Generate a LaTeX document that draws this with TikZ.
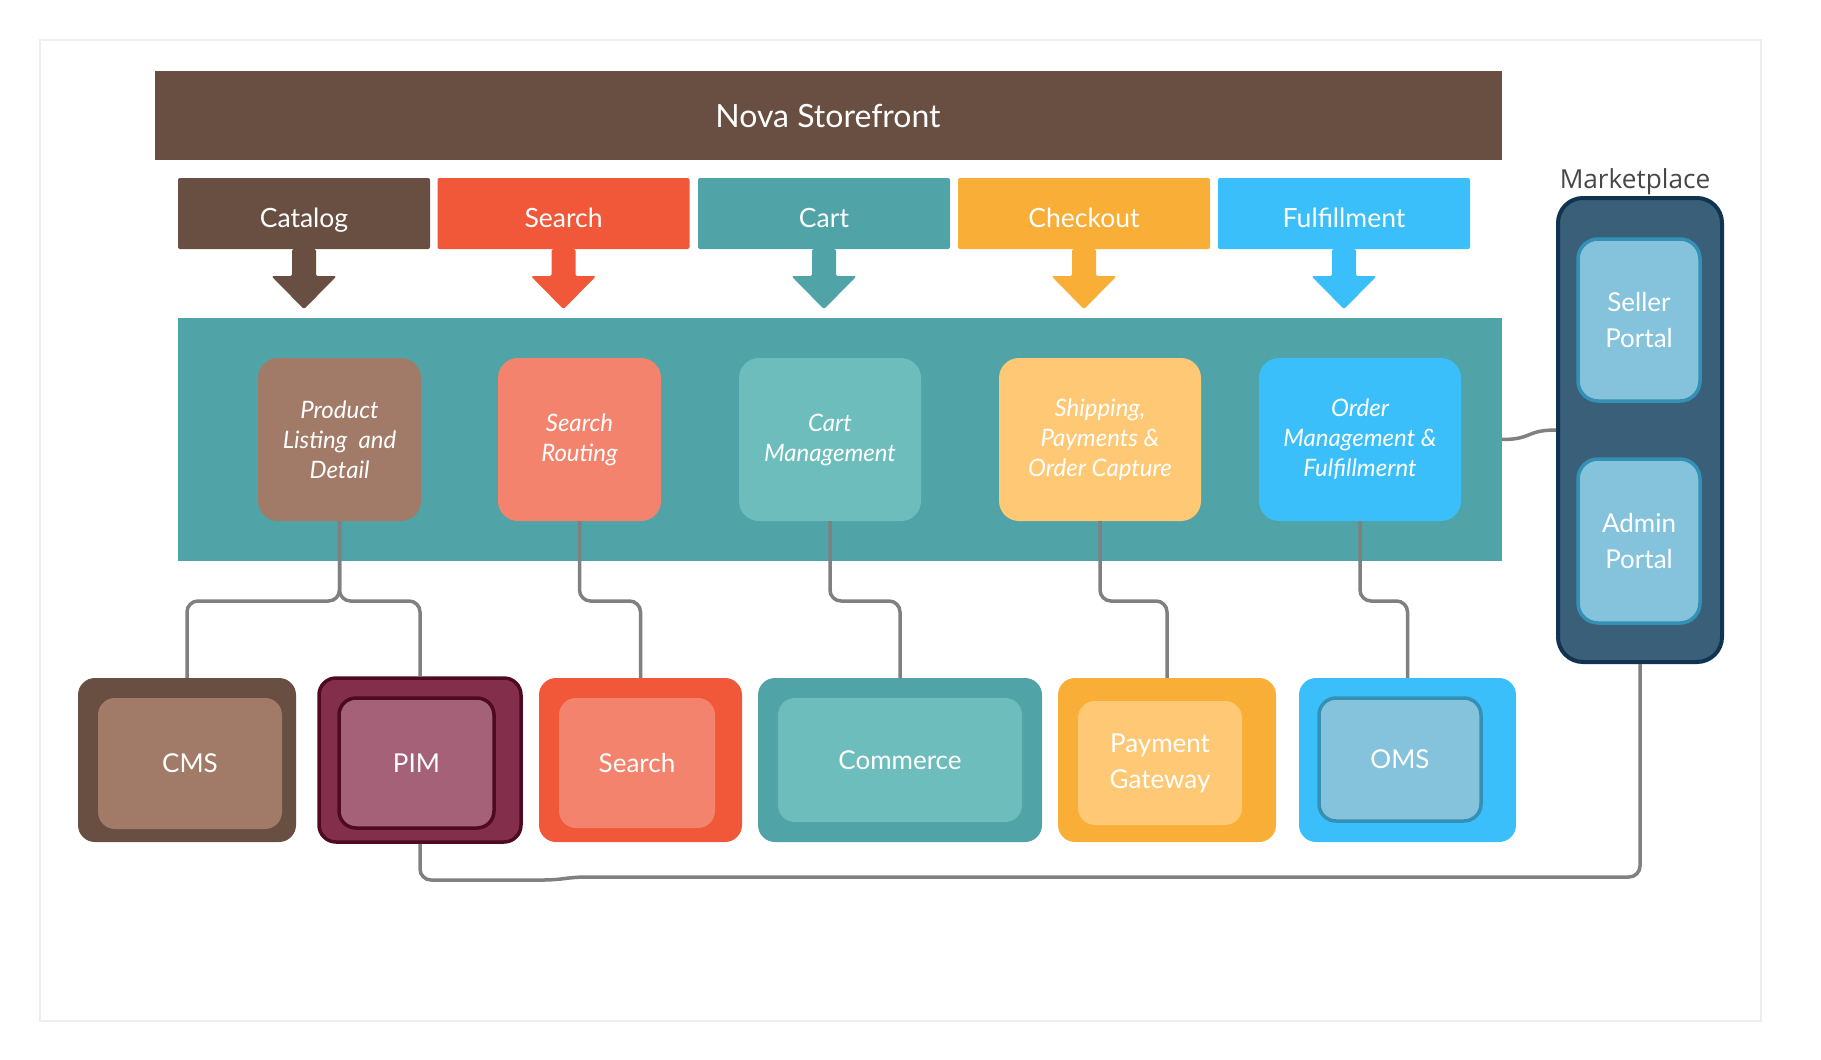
\documentclass[tikz,border=0pt]{standalone}
\usepackage{fontspec}
\setmainfont{Lato}
\newfontfamily\mktfont{Open Sans}
\usetikzlibrary{positioning}

\definecolor{barbrown}{HTML}{694E42}
\definecolor{srchred}{HTML}{F1583A}
\definecolor{cartteal}{HTML}{50A4A7}
\definecolor{chkorange}{HTML}{F9AE38}
\definecolor{fulblue}{HTML}{3BBFFA}
\definecolor{prodbrown}{HTML}{A27A68}
\definecolor{srchlight}{HTML}{F4836D}
\definecolor{cartlight}{HTML}{6EBDBD}
\definecolor{shiplight}{HTML}{FEC874}
\definecolor{pimdark}{HTML}{832E4A}
\definecolor{pimline}{HTML}{4E0A22}
\definecolor{pimlight}{HTML}{A46177}
\definecolor{portfill}{HTML}{84C3DB}
\definecolor{portline}{HTML}{3590B5}
\definecolor{mktfill}{HTML}{3A6079}
\definecolor{mktline}{HTML}{0F3350}
\definecolor{mktlabel}{HTML}{474747}
\definecolor{linkgray}{HTML}{808080}
\definecolor{framegray}{HTML}{EEEEEE}

\tikzset{
  tab/.style={rectangle, rounded corners=2pt, minimum width=252pt, minimum height=71pt, inner sep=0pt},
  tablabel/.style={anchor=base, inner sep=0pt, text=white, font=\fontsize{26.5}{30}\selectfont},
  svc/.style={rectangle, rounded corners=20pt, minimum height=163pt, inner sep=0pt, text=white, align=center, font=\fontsize{24}{30}\selectfont\itshape},
  sysout/.style={rectangle, rounded corners=17pt, minimum height=164pt, inner sep=0pt},
  sysin/.style={rectangle, rounded corners=17pt, inner sep=0pt, text=white, align=center, font=\fontsize{26}{36}\selectfont},
  link/.style={draw=linkgray, line width=3.5pt, rounded corners=11pt}
}

\begin{document}
\begin{tikzpicture}[x=1pt, y=-1pt]
    \useasboundingbox (0,0) rectangle (1821,1060);
    \draw[framegray, line width=2pt] (39.5,39.5) rectangle (1761,1021);

    \node[fill=barbrown, minimum width=1347pt, minimum height=89pt, inner sep=0pt, text=white, font=\fontsize{32}{38}\selectfont] (store) at (828,115.5) {Nova Storefront};

    \node[tab, fill=barbrown] (cat) at (304,213.5) {};
    \node[tab, fill=srchred] (srch) at (563.5,213.5) {};
    \node[tab, fill=cartteal] (cart) at (824,213.5) {};
    \node[tab, fill=chkorange] (chk) at (1084,213.5) {};
    \node[tab, fill=fulblue] (ful) at (1344,213.5) {};

    \foreach \t/\c/\l in {cat/barbrown/Catalog, srch/srchred/Search, cart/cartteal/Cart, chk/chkorange/Checkout, ful/fulblue/Fulfillment} {
        \node[tablabel] (\t txt) at (\t.center |- 0,227) {\l};
        \fill[\c, rounded corners=1.5pt] (\t.south) ++(-12,0) -- ++(0,27) -- ++(-20.5,0) -- ++(32.5,33) -- ++(32.5,-33) -- ++(-20.5,0) -- ++(0,-27) -- cycle;
    }

    \node[fill=cartteal, minimum width=1324pt, minimum height=243pt, inner sep=0pt] (band) at (840,439.5) {};

    \node[svc, fill=prodbrown, minimum width=163pt] (prod) at (339.5,439.5) {Product\\Listing~ and\\Detail};
    \node[svc, fill=srchlight, minimum width=163pt] (srt) at (579.5,439.5) {Search\\Routing};
    \node[svc, fill=cartlight, minimum width=182pt] (cartm) at (830,439.5) {Cart\\Management};
    \node[svc, fill=shiplight, minimum width=202pt] (ship) at (1100,439.5) {Shipping,\\Payments \&\\Order Capture};
    \node[svc, fill=fulblue, minimum width=202pt] (ord) at (1360,439.5) {Order\\Management \&\\Fulfillmernt};

    \node[font=\mktfont\fontsize{26.2}{30}\selectfont, text=mktlabel] (mktlbl) at (1635,181.5) {Marketplace};
    \node[rectangle, rounded corners=25pt, fill=mktfill, draw=mktline, line width=4pt, minimum width=164pt, minimum height=464pt] (mkt) at (1640,430) {};
    \node[sysin, fill=portfill, draw=portline, line width=3.5pt, rounded corners=20pt, minimum width=122pt, minimum height=162pt] (seller) at (1639,320) {Seller\\Portal};
    \node[sysin, fill=portfill, draw=portline, line width=3.5pt, rounded corners=20pt, minimum width=122pt, minimum height=164pt] (admin) at (1639,541) {Admin\\Portal};

    \node[sysout, fill=barbrown, minimum width=218pt] (cms) at (187,760) {};
    \node[sysin, fill=prodbrown, minimum width=184pt, minimum height=131pt] (cmsin) at (190,763.5) {CMS};
    \node[sysout, fill=pimdark, draw=pimline, line width=3.5pt, minimum width=202pt] (pim) at (420,760) {};
    \node[sysin, fill=pimlight, draw=pimline, line width=3.5pt, minimum width=155pt, minimum height=130pt] (pimin) at (416.5,763) {PIM};
    \node[sysout, fill=srchred, minimum width=203pt] (srchsys) at (640.5,760) {};
    \node[sysin, fill=srchlight, minimum width=156pt, minimum height=130pt] (srchin) at (637,763) {Search};
    \node[sysout, fill=cartteal, minimum width=284pt] (comm) at (900,760) {};
    \node[sysin, fill=cartlight, minimum width=244pt, minimum height=124pt] (commin) at (900,760) {Commerce};
    \node[sysout, fill=chkorange, minimum width=218pt] (pay) at (1167,760) {};
    \node[sysin, fill=shiplight, minimum width=164pt, minimum height=124pt] (payin) at (1160,763) {Payment\\Gateway};
    \node[sysout, fill=fulblue, minimum width=217pt] (oms) at (1407.5,760) {};
    \node[sysin, fill=portfill, draw=portline, line width=3.5pt, minimum width=162pt, minimum height=123pt] (omsin) at (1400,759.5) {OMS};

    \coordinate (bus) at (0,601);
    \coordinate (busb) at (0,880);
    \coordinate (kink) at (575,877);
    \draw[link] (prod.south) -- (prod.south |- bus) -| (cms.north);
    \draw[link] (prod.south) -- (prod.south |- bus) -| (pim.north);
    \draw[link] (srt.south) -- (srt.south |- bus) -| (srchsys.north);
    \draw[link] (cartm.south) -- (cartm.south |- bus) -| (comm.north);
    \draw[link] (ship.south) -- (ship.south |- bus) -| (pay.north);
    \draw[link] (ord.south) -- (ord.south |- bus) -| (oms.north);
    \draw[link] (band.east) .. controls +(30,0) and +(-30,0) .. (mkt.west);
    \draw[link] (pim.south) |- ([xshift=-20pt]kink |- busb) -- (kink) -| (mkt.south);
\end{tikzpicture}
\end{document}
